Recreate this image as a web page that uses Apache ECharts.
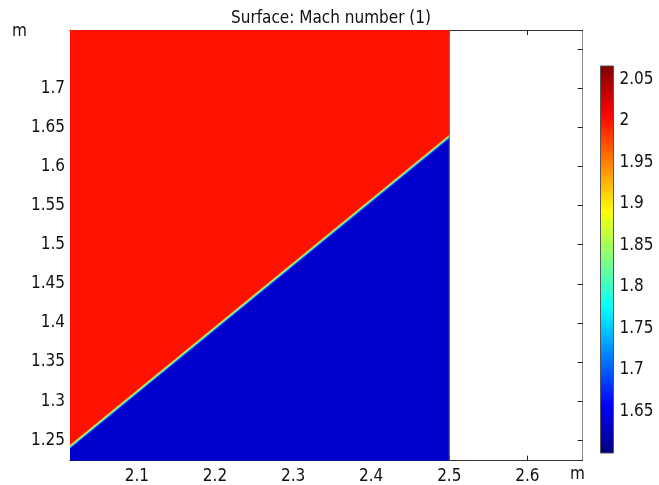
<!DOCTYPE html>
<html><head><meta charset="utf-8">
<script src="https://cdn.jsdelivr.net/npm/echarts@6/dist/echarts.min.js"></script>
<style>html,body{margin:0;padding:0;background:#fff}#c{width:659px;height:485px}#err{position:absolute;left:0;top:0;font:11px monospace;white-space:pre-wrap;width:650px}</style>
</head><body><div id="c"></div><div id="err"></div>
<script>
// axis limits (m)
const xLimits = [2.0144, 2.6708];
const yLimits = [1.2238, 1.7746];
const xTickValues = [2.1, 2.2, 2.3, 2.4, 2.5, 2.6];
const yTickValues = [1.25, 1.3, 1.35, 1.4, 1.45, 1.5, 1.55, 1.6, 1.65, 1.7];
const yTickMarks = [1.25, 1.3, 1.35, 1.4, 1.45, 1.5, 1.55, 1.6, 1.65, 1.7, 1.75];
// colour scale
const colorLimits = [1.6, 2.066];
const colorTickValues = [1.65, 1.7, 1.75, 1.8, 1.85, 1.9, 1.95, 2, 2.05];
const jetColors = ['#000080', '#0000ff', '#0080ff', '#00ffff', '#80ff80', '#ffff00', '#ff8000', '#ff0000', '#800000'];
// computational domain and oblique shock
const domainRightX = 2.5;
const shockLeft = [2.0144, 1.2414];
const shockRight = [2.5, 1.638];
// Mach number in each band, from the upstream region down to the downstream region
const machValues = [2.0, 1.95, 1.87, 1.78, 1.69, 1.635];
// band edges as offsets (m) from the shock line; null = domain boundary
const bandEdges = [null, 0.0024, 0.0012, 0.0, -0.0012, -0.0024, null];

const FONT = "'DejaVu Sans Condensed', 'DejaVu Sans', sans-serif";
try {
const chart = echarts.init(document.getElementById('c'), null, {renderer: 'canvas'});

function bandPolygon(i, api) {
  const up = bandEdges[i], lo = bandEdges[i + 1];
  const x0 = shockLeft[0], x1 = domainRightX;
  const tl = up === null ? [x0, yLimits[1]] : [x0, shockLeft[1] + up];
  const tr = up === null ? [x1, yLimits[1]] : [x1, shockRight[1] + up];
  const br = lo === null ? [x1, yLimits[0]] : [x1, shockRight[1] + lo];
  const bl = lo === null ? [x0, yLimits[0]] : [x0, shockLeft[1] + lo];
  return [tl, tr, br, bl].map(p => api.coord(p));
}

const axisText = {fontSize: 17, fontFamily: FONT, color: '#111'};

chart.setOption({
  animation: false,
  title: {
    text: 'Surface: Mach number (1)',
    left: 326, top: 5, textAlign: 'center',
    textStyle: {fontSize: 17, fontWeight: 'normal', fontFamily: FONT, color: '#111'}
  },
  grid: [
    {left: 70, top: 30, width: 512.7, height: 430.7, show: false},
    {left: 600.5, top: 66, width: 13, height: 387, show: false}
  ],
  visualMap: {
    type: 'continuous', show: false, seriesIndex: 0, dimension: 2,
    min: colorLimits[0], max: colorLimits[1],
    inRange: {color: jetColors}
  },
  xAxis: [
    {gridIndex: 0, type: 'value', position: 'bottom', min: xLimits[0], max: xLimits[1],
     axisLine: {onZero: false, lineStyle: {color: '#333', width: 1}},
     axisTick: {inside: true, length: 5, customValues: xTickValues, lineStyle: {color: '#222'}},
     axisLabel: Object.assign({customValues: xTickValues, margin: 7}, axisText),
     splitLine: {show: false}},
    {gridIndex: 0, type: 'value', position: 'top', min: xLimits[0], max: xLimits[1],
     axisLine: {onZero: false, lineStyle: {color: '#333', width: 1}},
     axisTick: {inside: true, length: 5, customValues: xTickValues, lineStyle: {color: '#222'}},
     axisLabel: {show: false}, splitLine: {show: false}},
    {gridIndex: 1, type: 'value', min: 0, max: 1, show: false}
  ],
  yAxis: [
    {gridIndex: 0, type: 'value', position: 'left', min: yLimits[0], max: yLimits[1],
     axisLine: {onZero: false, lineStyle: {color: '#888', width: 1}},
     axisTick: {inside: true, length: 5, customValues: yTickMarks, lineStyle: {color: '#222'}},
     axisLabel: Object.assign({customValues: yTickValues, margin: 5}, axisText),
     splitLine: {show: false}},
    {gridIndex: 0, type: 'value', position: 'right', min: yLimits[0], max: yLimits[1],
     axisLine: {onZero: false, lineStyle: {color: '#888', width: 1}},
     axisTick: {inside: true, length: 5, customValues: yTickMarks, lineStyle: {color: '#222'}},
     axisLabel: {show: false}, splitLine: {show: false}},
    {gridIndex: 1, type: 'value', position: 'left', min: colorLimits[0], max: colorLimits[1],
     axisLine: {show: false},
     axisTick: {inside: true, length: 3, customValues: colorTickValues, lineStyle: {color: '#222'}},
     axisLabel: {show: false}, splitLine: {show: false}},
    {gridIndex: 1, type: 'value', position: 'right', min: colorLimits[0], max: colorLimits[1],
     axisLine: {show: false},
     axisTick: {inside: true, length: 3, customValues: colorTickValues, lineStyle: {color: '#222'}},
     axisLabel: Object.assign({customValues: colorTickValues, margin: 6}, axisText),
     splitLine: {show: false}}
  ],
  graphic: [
    {type: 'text', left: 12, top: 23, style: {text: 'm', font: '17px ' + FONT, fill: '#111'}},
    {type: 'text', left: 570, top: 466, style: {text: 'm', font: '17px ' + FONT, fill: '#111'}}
  ],
  series: [
    {
      type: 'custom', name: 'Mach number', xAxisIndex: 0, yAxisIndex: 0, clip: true,
      data: machValues.map(v => [shockLeft[0], shockLeft[1], v]),
      renderItem: function (params, api) {
        const color = api.visual('color');
        return {type: 'polygon', shape: {points: bandPolygon(params.dataIndex, api)},
                style: {fill: color, stroke: color, lineWidth: 0.4}};
      }
    },
    {
      type: 'custom', name: 'domain boundary', xAxisIndex: 0, yAxisIndex: 0, silent: true, z: 3,
      data: [[domainRightX, yLimits[0]], [domainRightX, yLimits[1]]],
      renderItem: function (params, api) {
        if (params.dataIndex !== 0) return null;
        const a = api.coord([domainRightX, yLimits[0]]);
        const b = api.coord([domainRightX, yLimits[1]]);
        return {type: 'line', shape: {x1: a[0], y1: a[1], x2: b[0], y2: b[1]},
                style: {stroke: '#666', lineWidth: 1}};
      }
    },
    {
      type: 'custom', name: 'colorbar', xAxisIndex: 2, yAxisIndex: 2, silent: true, z: 1,
      data: [[0, colorLimits[0]], [1, colorLimits[1]]],
      renderItem: function (params, api) {
        if (params.dataIndex !== 0) return null;
        const p0 = api.coord([0, colorLimits[1]]);
        const p1 = api.coord([1, colorLimits[0]]);
        const stops = jetColors.map((c, i) => ({offset: i / (jetColors.length - 1), color: c}));
        return {type: 'rect', shape: {x: p0[0], y: p0[1], width: p1[0] - p0[0], height: p1[1] - p0[1]},
                style: {fill: new echarts.graphic.LinearGradient(0, 1, 0, 0, stops), stroke: '#555', lineWidth: 1}};
      }
    }
  ]
});
} catch (e) {
  document.getElementById('err').textContent = String(e && e.stack || e);
}
</script></body></html>
